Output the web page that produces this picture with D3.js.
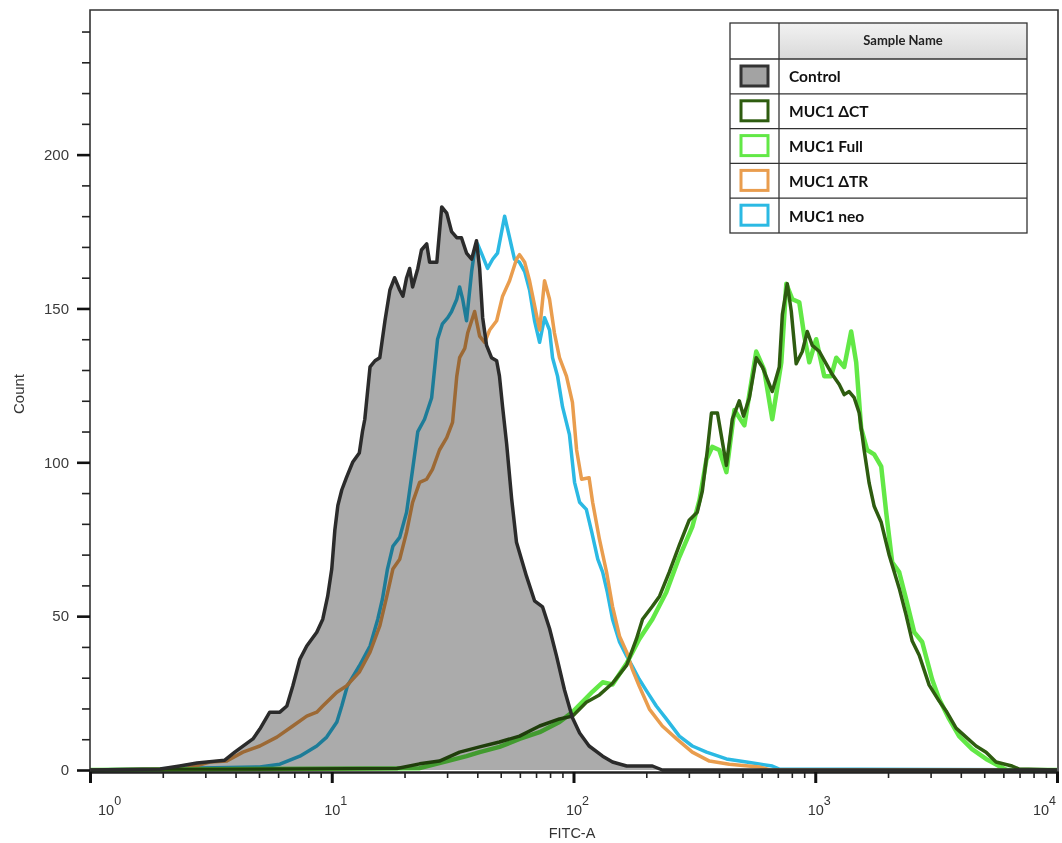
<!DOCTYPE html>
<html>
<head>
<meta charset="utf-8">
<script src="https://cdn.jsdelivr.net/npm/d3@7"></script>
<style>
  body { margin: 0; background: #fff; }
  svg { display: block; }
</style>
</head>
<body>
<div id="chart"></div>
<script>
// histogram data: [FITC-A, count]
const control = [[1,0],[1.95,0.3],[2.35,1.3],[2.77,2.3],[3.61,3.2],[3.97,5.8],[4.72,10.1],[5.04,13.3],[5.54,18.8],[6.10,18.8],[6.52,20.8],[6.90,27.3],[7.38,36],[7.88,40.3],[8.67,44.8],[9.18,49],[9.62,56.5],[10.0,65.3],[10.3,78],[10.6,86],[11.0,91],[11.5,95],[12.2,100],[13.0,103],[13.4,110],[13.7,114],[14.4,131],[15.1,133],[15.8,134],[16.6,146],[17.4,156],[18.2,160],[19.1,156],[19.7,154],[20.4,160],[21.0,163],[21.6,157],[22.7,163],[23.5,169],[24.7,171],[25.4,165],[27.2,165],[28.5,183],[29.9,181],[31.3,175],[32.9,173],[34.4,173],[36.1,168],[37.9,166],[39.7,172],[40.9,163],[42.1,147],[43.7,138],[45.8,134],[48.1,133],[49.4,128],[50.9,118],[52.9,106],[55.5,88],[58.1,74],[63.9,63],[69.0,55],[74.5,53],[79.6,46],[85.1,37],[91.8,26],[99,17],[106,12],[116,7.8],[132,4.5],[145,2.6],[166,1.3],[212,1.3],[233,0],[10000,0]];

const muc1dCT = [[1,0],[18.6,0.5],[23.1,2.0],[27.9,2.9],[33.8,5.8],[40.9,7.5],[49.4,9.1],[59.8,11],[72.4,14.3],[87.5,16.6],[99,17.5],[113,22],[128,24.4],[145,28.2],[166,34.1],[182,42.5],[193,49],[212,53.2],[227,56.5],[249,64.3],[274,73.1],[301,81.2],[325,83.8],[341,90.6],[358,104],[372,116],[394,116],[429,99],[454,114],[485,120],[505,115],[534,121],[570,134],[604,131],[664,123],[710,131],[731,148],[766,158],[796,149],[834,132],[884,136],[927,142.5],[972,138],[1040,136],[1110,132],[1175,128.6],[1257,125.3],[1318,122],[1381,123],[1449,121],[1520,116],[1593,104],[1671,93.2],[1753,85.7],[1874,80.5],[2023,69.8],[2224,59.1],[2377,50.3],[2518,41.9],[2692,37.3],[2960,27.6],[3255,22.4],[3479,19.2],[3825,13.6],[4206,10.7],[4625,7.8],[5088,5.8],[5594,2.6],[6518,1.3],[6966,0.3],[10000,0]];

const muc1Full = [[1,0],[23.1,0.6],[36.1,4.5],[40.9,5.8],[49.4,7.5],[59.8,10.1],[72.4,12.3],[87.5,15.6],[99,18.8],[120,25.5],[132,28.5],[145,27.8],[166,34.7],[187,42.5],[212,49],[242,57.8],[274,69.2],[310,79],[332,87.7],[355,101],[375,105],[401,104],[429,96.8],[463,117],[509,112],[570,136],[615,130],[664,114],[724,132.5],[759,158],[804,153],[859,152],[901,141],[945,132.5],[1009,140],[1090,128],[1164,128],[1222,134],[1318,131],[1408,142.5],[1477,132.5],[1549,111],[1640,104],[1753,102.6],[1874,98.7],[1965,83.8],[2081,67.5],[2224,64.3],[2377,55.5],[2566,44.8],[2769,41.6],[3043,29.5],[3255,23.1],[3578,16.6],[3935,11],[4453,6.8],[5088,3.6],[5754,1.3],[6200,0],[10000,0]];

const muc1dTR = [[1,0],[2.5,0.5],[3.13,2.6],[3.68,2.9],[4.29,5.8],[5.04,7.8],[5.93,10.7],[6.90,14.3],[7.88,17.5],[8.67,18.8],[9.18,20.8],[10.5,25.3],[11.5,27.3],[13.0,31.8],[14.4,38.3],[15.8,46.8],[16.9,56.5],[17.9,65.3],[19.1,68.5],[20.4,77.3],[21.6,87],[23.1,93.5],[24.7,94.5],[26.1,97.7],[27.9,104],[29.9,108],[31.6,113],[32.9,128],[33.8,134],[35.5,137],[36.5,142],[39.0,149],[40.9,141],[42.9,139],[45.0,143],[48.1,146],[50.9,154],[54.4,159],[58.1,166],[59.8,167.5],[62.8,165],[65.8,159],[69.0,151],[72.4,143],[75.9,159],[79.6,153],[83.4,142],[87.5,134],[93.5,128],[99,119.5],[103,104],[108,94.5],[116,95],[120,87],[128,75],[137,64.3],[145,53.2],[155,43.5],[166,38.3],[175,32.8],[187,27.3],[206,19.8],[233,14.3],[267,10.1],[310,5.8],[365,2.9],[441,1.9],[587,1.0],[650,0],[10000,0]];

const muc1neo = [[1,0],[5.04,1.0],[6.10,1.9],[7.38,4.5],[8.67,7.8],[9.53,10.7],[10.5,15.6],[11.0,20.8],[11.6,27.3],[13.0,33.8],[14.4,40.3],[15.5,49],[16.2,55.5],[17.0,65.3],[17.9,72.7],[19.1,75.6],[20.4,83.8],[21.6,97.7],[22.7,110],[24.2,114],[25.9,121],[27.4,140],[28.7,145],[30.2,147],[31.3,149],[32.9,153],[33.8,157],[34.8,153],[36.1,146],[37.9,162],[39.0,169],[40.1,171],[42.1,167],[44.1,163],[46.3,166],[48.5,168],[51.9,180],[54.4,173],[57.0,166],[59.8,165],[62.8,162],[65.8,156],[69.0,146],[72.4,139],[75.9,147],[79.6,143],[81.9,134],[85.9,128],[90.1,118],[96.2,109],[101,93.5],[106,87],[113,84.7],[119,77.3],[126,68.5],[132,64.3],[138,57.8],[145,49],[155,41.6],[166,37],[175,33.8],[187,29.5],[202,25.3],[220,20.8],[242,16.6],[274,11],[310,7.8],[355,5.8],[429,3.6],[519,2.6],[664,1.3],[710,0.3],[10000,0]];

const sampleNames = ['Control', 'MUC1 \u0394CT', 'MUC1 Full', 'MUC1 \u0394TR', 'MUC1 neo'];
const xMajorTicks = [1, 10, 100, 1000, 10000];
const yMajorTicks = [0, 50, 100, 150, 200];
const yMinorTicks = [10, 20, 30, 40, 60, 70, 80, 90, 110, 120, 130, 140, 160, 170, 180, 190, 210, 220, 230, 240];

const svg = d3.select('#chart').append('svg')
  .attr('width', 1062)
  .attr('height', 843);

const plotLeft = 90, plotRight = 1058, plotTop = 10, plotBottom = 772;

const x = d3.scaleLog().domain([1, 10000]).range([plotLeft, plotRight - 1]);
const y = d3.scaleLinear().domain([0, 247]).range([plotBottom - 2, plotTop]);

const line = d3.line().x(d => x(d[0])).y(d => y(d[1]));
const area = d3.area().x(d => x(d[0])).y0(y(0)).y1(d => y(d[1]));

// series drawn back to front: neo, dTR, Full, dCT, then control on top
const series = [
  { data: muc1neo, color: '#2bb9e3', width: 3.5 },
  { data: muc1dTR, color: '#e99d4e', width: 3.5 },
  { data: muc1Full, color: '#62e846', width: 4.5 },
  { data: muc1dCT, color: '#2e5c10', width: 3.5 }
];

const plot = svg.append('g');

series.forEach(s => {
  plot.append('path')
    .datum(s.data)
    .attr('d', line)
    .attr('fill', 'none')
    .attr('stroke', s.color)
    .attr('stroke-width', s.width)
    .attr('stroke-linejoin', 'round');
});

// control histogram: grey fill multiplied over the other curves
plot.append('path')
  .datum(control)
  .attr('d', area)
  .attr('fill', '#ababab')
  .style('mix-blend-mode', 'multiply');

plot.append('path')
  .datum(control)
  .attr('d', line)
  .attr('fill', 'none')
  .attr('stroke', '#2b2b2b')
  .attr('stroke-width', 3.5)
  .attr('stroke-linejoin', 'round');

// frame
svg.append('path')
  .attr('d', `M${plotLeft},${plotBottom} V${plotTop} H${plotRight} V${plotBottom}`)
  .attr('fill', 'none')
  .attr('stroke', '#333')
  .attr('stroke-width', 1.6);

// x axis
const xMinor = d3.axisBottom(x).tickValues(x.ticks().filter(v => !xMajorTicks.includes(v)))
  .tickSize(6).tickFormat('');
const xMajor = d3.axisBottom(x).tickValues(xMajorTicks).tickSize(11).tickFormat('');

svg.append('g').attr('transform', `translate(0,${plotBottom})`).call(xMinor)
  .call(g => g.selectAll('line').attr('stroke', '#222').attr('stroke-width', 1.6))
  .call(g => g.select('.domain').attr('stroke', '#222').attr('stroke-width', 2.5));
svg.append('g').attr('transform', `translate(0,${plotBottom})`).call(xMajor)
  .call(g => g.selectAll('line').attr('stroke', '#111').attr('stroke-width', 3))
  .call(g => g.select('.domain').remove());

const xLabels = svg.append('g')
  .style('font-family', '"Liberation Sans", Arial, sans-serif')
  .attr('fill', '#333');

xMajorTicks.forEach((v, i) => {
  let px = x(v);
  let anchor = 'middle';
  let dx = 4;
  if (i === 0) { anchor = 'start'; px = x(v) + 8; dx = 0; }
  if (i === xMajorTicks.length - 1) { anchor = 'end'; px = x(v) - 1; dx = 0; }
  const t = xLabels.append('text')
    .attr('x', px + dx)
    .attr('y', 815)
    .attr('text-anchor', anchor)
    .style('font-size', '14.5px');
  t.append('tspan').text('10');
  t.append('tspan').attr('dy', -10).style('font-size', '12.5px').text(Math.round(Math.log10(v)));
});

svg.append('text')
  .attr('x', 572)
  .attr('y', 838)
  .attr('text-anchor', 'middle')
  .style('font-family', '"Liberation Sans", Arial, sans-serif')
  .style('font-size', '14.5px')
  .attr('fill', '#333')
  .text('FITC-A');

// y axis
const yMinor = d3.axisLeft(y).tickValues(yMinorTicks).tickSize(8).tickFormat('');
const yMajor = d3.axisLeft(y).tickValues(yMajorTicks).tickSize(13).tickPadding(8);

svg.append('g').attr('transform', `translate(${plotLeft},0)`).call(yMinor)
  .call(g => g.selectAll('line').attr('stroke', '#222').attr('stroke-width', 1.6))
  .call(g => g.select('.domain').remove());
svg.append('g').attr('transform', `translate(${plotLeft},0)`).call(yMajor)
  .call(g => g.selectAll('line').attr('stroke', '#111').attr('stroke-width', 2.6))
  .call(g => g.select('.domain').remove())
  .call(g => g.selectAll('text')
    .style('font-family', '"Liberation Sans", Arial, sans-serif')
    .style('font-size', '15px')
    .attr('fill', '#3a3a3a'));

svg.append('text')
  .attr('transform', 'translate(24,394) rotate(-90)')
  .attr('text-anchor', 'middle')
  .style('font-family', '"Liberation Sans", Arial, sans-serif')
  .style('font-size', '15px')
  .attr('fill', '#333')
  .text('Count');

// legend table
const legendColors = [
  { stroke: '#333', fill: '#a3a3a3' },
  { stroke: '#2e5c10', fill: '#fff' },
  { stroke: '#62e846', fill: '#fff' },
  { stroke: '#e99d4e', fill: '#fff' },
  { stroke: '#2bb9e3', fill: '#fff' }
];
const lgX0 = 730, lgX1 = 779, lgX2 = 1027, lgY0 = 23, headH = 36, rowH = 34.8;

const defs = svg.append('defs');
const grad = defs.append('linearGradient').attr('id', 'headGrad')
  .attr('x1', 0).attr('y1', 0).attr('x2', 0).attr('y2', 1);
grad.append('stop').attr('offset', '0%').attr('stop-color', '#f2f2f2');
grad.append('stop').attr('offset', '100%').attr('stop-color', '#d9d9d9');

const legend = svg.append('g');
legend.append('rect')
  .attr('x', lgX1).attr('y', lgY0)
  .attr('width', lgX2 - lgX1).attr('height', headH)
  .attr('fill', 'url(#headGrad)');

legend.append('text')
  .attr('x', (lgX1 + lgX2) / 2)
  .attr('y', lgY0 + headH / 2 + 4)
  .attr('text-anchor', 'middle')
  .style('font-family', 'Lato, "Open Sans", sans-serif')
  .style('font-weight', 'bold')
  .style('font-size', '13px')
  .attr('fill', '#222')
  .text('Sample Name');

sampleNames.forEach((name, i) => {
  const ry = lgY0 + headH + i * rowH;
  legend.append('rect')
    .attr('x', 741).attr('y', ry + 7)
    .attr('width', 27).attr('height', 20)
    .attr('fill', legendColors[i].fill)
    .attr('stroke', legendColors[i].stroke)
    .attr('stroke-width', 3);
  legend.append('text')
    .attr('x', 789)
    .attr('y', ry + rowH / 2 + 6)
    .style('font-family', 'Lato, "Open Sans", sans-serif')
    .style('font-weight', 'bold')
    .style('font-size', '15.5px')
    .attr('fill', '#111')
    .text(name);
  legend.append('line')
    .attr('x1', lgX0).attr('x2', lgX2)
    .attr('y1', ry).attr('y2', ry)
    .attr('stroke', '#333').attr('stroke-width', 1.3);
});

const lgY1 = lgY0 + headH + sampleNames.length * rowH;
legend.append('rect')
  .attr('x', lgX0).attr('y', lgY0)
  .attr('width', lgX2 - lgX0).attr('height', lgY1 - lgY0)
  .attr('fill', 'none')
  .attr('stroke', '#333').attr('stroke-width', 1.3);
legend.append('line')
  .attr('x1', lgX1).attr('x2', lgX1)
  .attr('y1', lgY0).attr('y2', lgY1)
  .attr('stroke', '#333').attr('stroke-width', 1.3);
</script>
</body>
</html>
